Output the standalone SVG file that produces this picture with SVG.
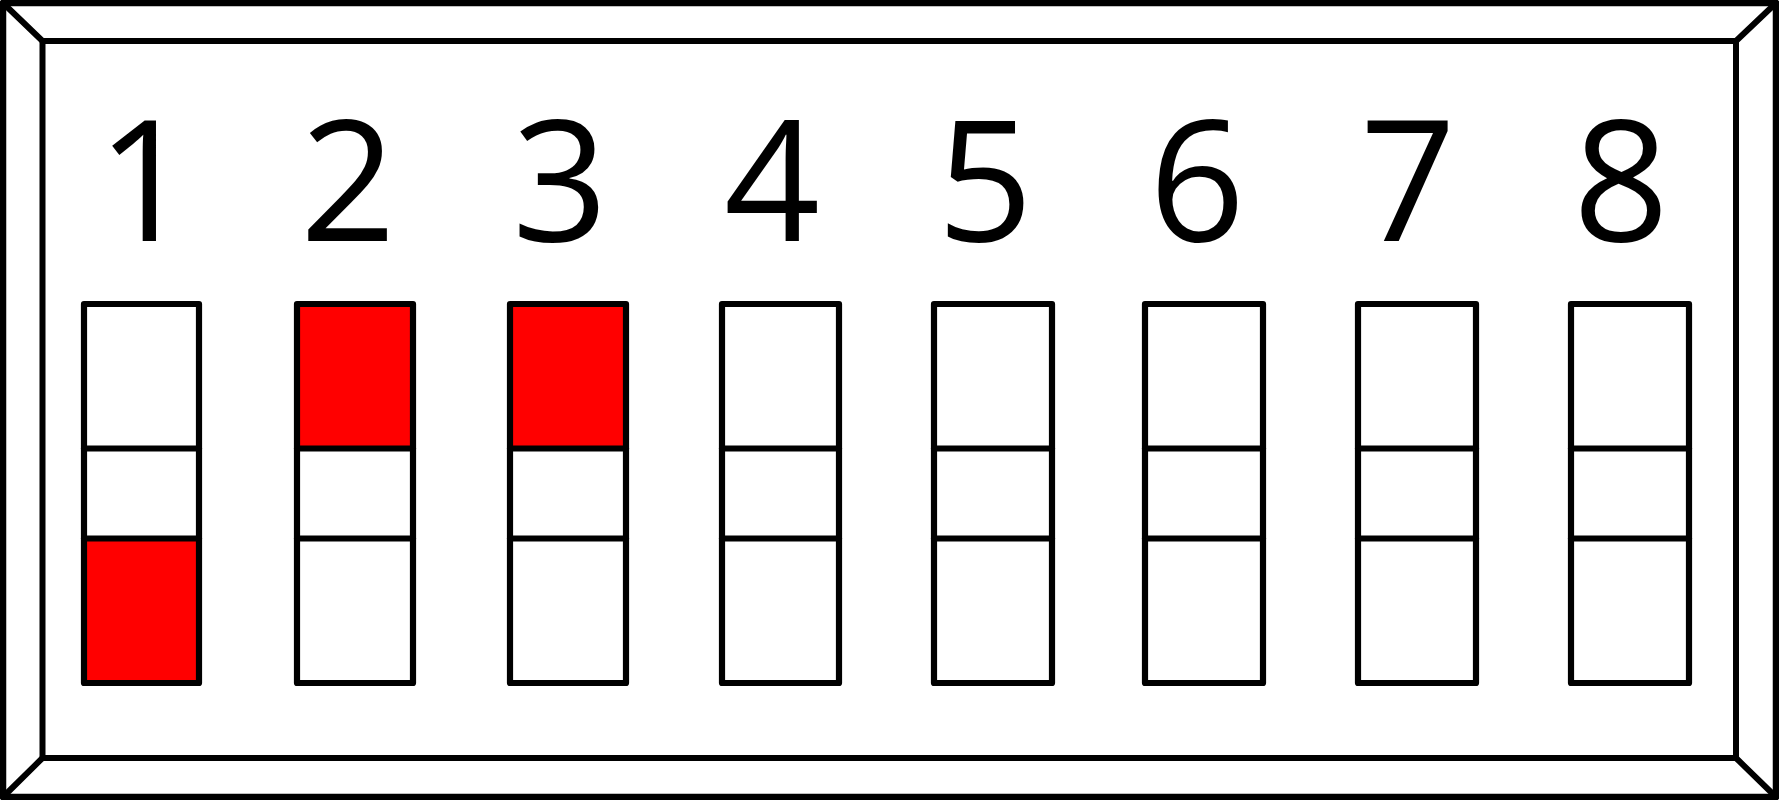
<svg xmlns="http://www.w3.org/2000/svg" width="1779" height="800" viewBox="0 0 1779 800">
<style>
.frame{fill:none;stroke:#000;stroke-width:6.5;stroke-linejoin:round;stroke-linecap:round}
.inner{fill:none;stroke:#000;stroke-width:6;stroke-linejoin:round;stroke-linecap:round}
.sw{fill:none;stroke:#000;stroke-width:6.2;stroke-linejoin:round;stroke-linecap:round}
.on{fill:#ff0000;stroke:none}
.num{font-family:"Open Sans","Noto Sans",sans-serif;font-size:168px;fill:#000;text-anchor:middle}
</style>
<rect x="0" y="0" width="1779" height="800" fill="#fff"/>
<g id="housing">
<rect class="frame" x="3" y="3" width="1773" height="794"/>
<rect class="inner" x="42.5" y="41" width="1693.5" height="717"/>
<line class="inner" x1="3" y1="3" x2="42.5" y2="41"/>
<line class="inner" x1="1776" y1="3" x2="1736" y2="41"/>
<line class="inner" x1="3" y1="797" x2="42.5" y2="758"/>
<line class="inner" x1="1776" y1="797" x2="1736" y2="758"/>
</g>
<g id="switch1">
<rect class="on" x="84" y="538" width="115" height="145"/>
<rect class="sw" x="84" y="304" width="115" height="379"/>
<line class="sw" x1="84" y1="448.5" x2="199" y2="448.5"/>
<line class="sw" x1="84" y1="538.5" x2="199" y2="538.5"/>
<text class="num" x="145" y="240.5">1</text>
</g>
<g id="switch2">
<rect class="on" x="297" y="304" width="116" height="144"/>
<rect class="sw" x="297" y="304" width="116" height="379"/>
<line class="sw" x1="297" y1="448.5" x2="413" y2="448.5"/>
<line class="sw" x1="297" y1="538.5" x2="413" y2="538.5"/>
<text class="num" x="348" y="240.5">2</text>
</g>
<g id="switch3">
<rect class="on" x="510" y="304" width="116" height="144"/>
<rect class="sw" x="510" y="304" width="116" height="379"/>
<line class="sw" x1="510" y1="448.5" x2="626" y2="448.5"/>
<line class="sw" x1="510" y1="538.5" x2="626" y2="538.5"/>
<text class="num" x="560" y="240.5">3</text>
</g>
<g id="switch4">
<rect class="sw" x="722" y="304" width="117" height="379"/>
<line class="sw" x1="722" y1="448.5" x2="839" y2="448.5"/>
<line class="sw" x1="722" y1="538.5" x2="839" y2="538.5"/>
<text class="num" x="772" y="240.5">4</text>
</g>
<g id="switch5">
<rect class="sw" x="934" y="304" width="118" height="379"/>
<line class="sw" x1="934" y1="448.5" x2="1052" y2="448.5"/>
<line class="sw" x1="934" y1="538.5" x2="1052" y2="538.5"/>
<text class="num" x="985" y="240.5">5</text>
</g>
<g id="switch6">
<rect class="sw" x="1145" y="304" width="118" height="379"/>
<line class="sw" x1="1145" y1="448.5" x2="1263" y2="448.5"/>
<line class="sw" x1="1145" y1="538.5" x2="1263" y2="538.5"/>
<text class="num" x="1197" y="240.5">6</text>
</g>
<g id="switch7">
<rect class="sw" x="1358" y="304" width="118" height="379"/>
<line class="sw" x1="1358" y1="448.5" x2="1476" y2="448.5"/>
<line class="sw" x1="1358" y1="538.5" x2="1476" y2="538.5"/>
<text class="num" x="1408" y="240.5">7</text>
</g>
<g id="switch8">
<rect class="sw" x="1571" y="304" width="118" height="379"/>
<line class="sw" x1="1571" y1="448.5" x2="1689" y2="448.5"/>
<line class="sw" x1="1571" y1="538.5" x2="1689" y2="538.5"/>
<text class="num" x="1621" y="240.5">8</text>
</g>
<g id="connectors"></g>
</svg>
